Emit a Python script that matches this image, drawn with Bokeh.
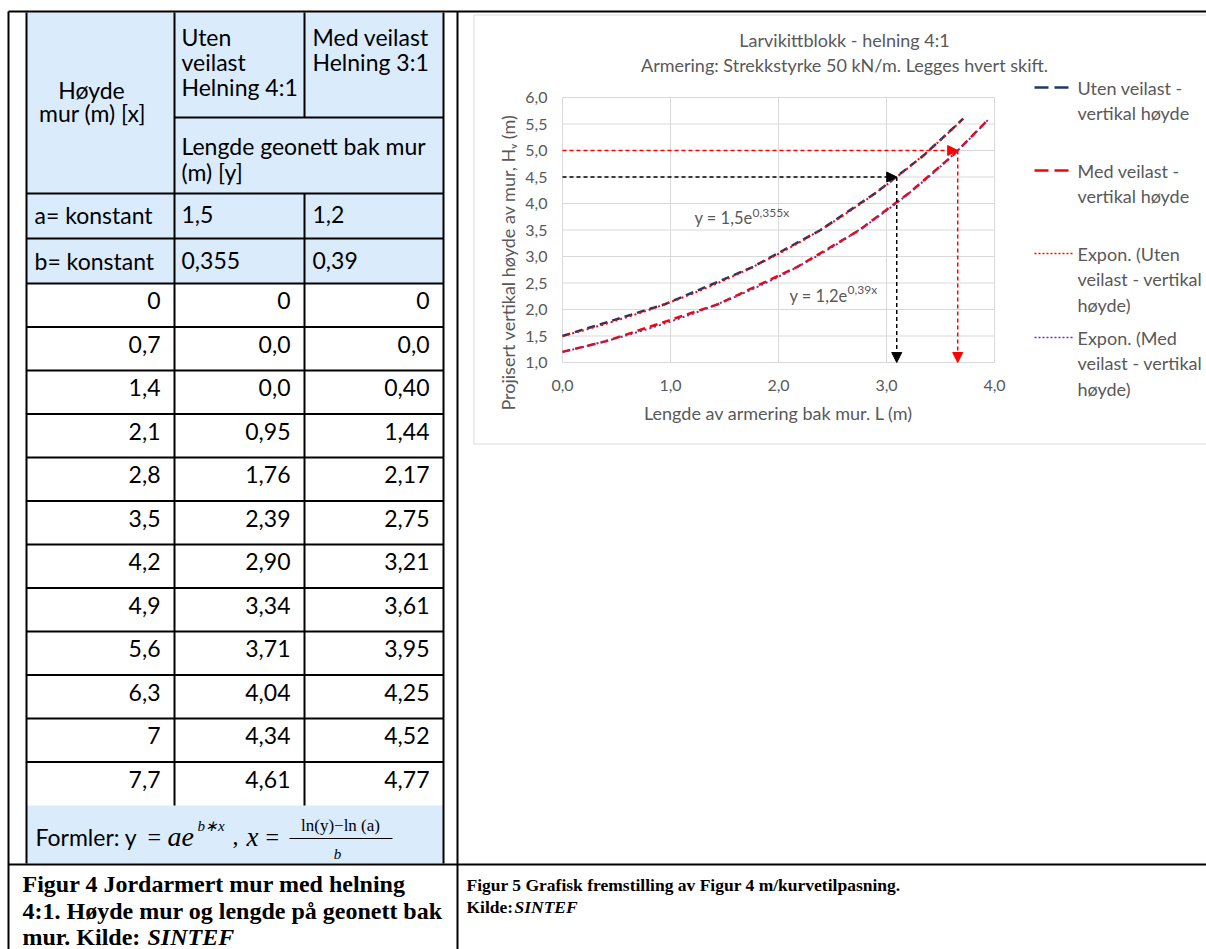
import math
import numpy as np
from bokeh.plotting import figure
from bokeh.models import Range1d, Arrow, NormalHead
from bokeh.core.properties import value
from bokeh.embed import file_html
from bokeh.resources import INLINE

# ---------------- data ----------------
hoyde_lbl = ["0", "0,7", "1,4", "2,1", "2,8", "3,5", "4,2", "4,9", "5,6", "6,3", "7", "7,7"]
uten_lbl = ["0", "0,0", "0,0", "0,95", "1,76", "2,39", "2,90", "3,34", "3,71", "4,04", "4,34", "4,61"]
med_lbl = ["0", "0,0", "0,40", "1,44", "2,17", "2,75", "3,21", "3,61", "3,95", "4,25", "4,52", "4,77"]
a_lbl = ["1,5", "1,2"]
b_lbl = ["0,355", "0,39"]
target_h = [4.5, 5.0]
x_ticks = [0.0, 1.0, 2.0, 3.0, 4.0]
x_tick_lbl = ["0,0", "1,0", "2,0", "3,0", "4,0"]
y_ticks = [1.0, 1.5, 2.0, 2.5, 3.0, 3.5, 4.0, 4.5, 5.0, 5.5, 6.0]
y_tick_lbl = ["1,0", "1,5", "2,0", "2,5", "3,0", "3,5", "4,0", "4,5", "5,0", "5,5", "6,0"]
legend_lines = [
    ["Uten veilast -", "vertikal høyde"],
    ["Med veilast -", "vertikal høyde"],
    ["Expon. (Uten", "veilast - vertikal", "høyde)"],
    ["Expon. (Med", "veilast - vertikal", "høyde)"],
]


def num(s):
    return float(s.replace(",", "."))


H_all = [num(s) for s in hoyde_lbl]
L_uten = [num(s) for s in uten_lbl]
L_med = [num(s) for s in med_lbl]
a_vals = [num(s) for s in a_lbl]
b_vals = [num(s) for s in b_lbl]

# ---------------- styles ----------------
W, HT = 1206, 949
CAL = value("Lato")
SER = value("Liberation Serif")
GRAY = "#595959"
BLUE = "#DAEBFC"
NAVY = "#1F3864"
RED = "#FF0000"
PURPLE = "#7030A0"

p = figure(width=W, height=HT, x_range=Range1d(0, W), y_range=Range1d(HT, 0),
           output_backend="svg", toolbar_location=None, min_border=0,
           x_axis_type=None, y_axis_type=None)
p.outline_line_color = None
p.background_fill_color = "white"
p.border_fill_color = "white"

# chart scales (plot area pixel box)
PL, PR, PT, PB = 562, 994, 97, 362
xmin, xmax = x_ticks[0], x_ticks[-1]
ymin, ymax = y_ticks[0], y_ticks[-1]
kx = (PR - PL) / (xmax - xmin)
ky = (PB - PT) / (ymax - ymin)
p.extra_x_ranges = {"L": Range1d(xmin + (0 - PL) / kx, xmin + (W - PL) / kx)}
p.extra_y_ranges = {"H": Range1d(ymax - (HT - PT) / ky, ymax + (PT - 0) / ky)}
CH = dict(x_range_name="L", y_range_name="H")


def txt(x, y, s, size, color="black", align="left", font=CAL, style="normal", **kw):
    p.text(x=[x], y=[y], text=[s], text_font=font, text_font_size=f"{size}px",
           text_color=color, text_align=align, text_baseline="middle",
           text_font_style=style, **kw)


def seg(x0, y0, x1, y1, color="black", w=2, **kw):
    p.segment(x0=x0, y0=y0, x1=x1, y1=y1, line_color=color, line_width=w, **kw)


# ---------------- table ----------------
cx = [26, 174, 304, 443]
top, r1, r2, r3, r4 = 12, 117, 193, 238, 283
row_h = 43.5
n = len(hoyde_lbl)
data_edges = [r4 + i * row_h for i in range(n + 1)]
f_top, f_bot = data_edges[-1], 863

p.quad(left=[cx[0], cx[0]], right=[cx[3], cx[3]], top=[top, f_top], bottom=[r4, f_bot],
       fill_color=BLUE, line_color=None)

# table lines
seg([cx[0], cx[3], cx[1], cx[2], cx[2]], [top, top, top, top, r2],
    [cx[0], cx[3], cx[1], cx[2], cx[2]], [f_bot, f_bot, f_top, r1, f_top])
hl = [r2, r3] + data_edges[:-1]
seg([cx[1]] + [cx[0]] * len(hl), [r1] + hl, [cx[3]] * (len(hl) + 1), [r1] + hl)

# outer frame
seg([8, 8, 457, 8], [11, 11, 11, 864], [1210, 8, 457, 1210], [11, 952, 952, 864])

# header texts
TS = 23
txt(91, 89, "Høyde", TS, align="center")
txt(92, 112, "mur (m) [x]", TS, align="center")
for i, s in enumerate(["Uten", "veilast", "Helning 4:1"]):
    txt(181, 36 + 25 * i, s, TS)
for i, s in enumerate(["Med veilast", "Helning 3:1"]):
    txt(312, 36 + 25 * i, s, TS)
txt(181, 145, "Lengde geonett bak mur", TS)
txt(181, 171, "(m) [y]", TS)
txt(34, 214, "a= konstant", TS)
txt(181, 214, a_lbl[0], TS)
txt(312, 214, a_lbl[1], TS)
txt(34, 260, "b= konstant", TS)
txt(181, 260, b_lbl[0], TS)
txt(312, 260, b_lbl[1], TS)

ys = [e + 17 for e in data_edges[:-1]]
for col_x, labels in [(cx[1], hoyde_lbl), (cx[2], uten_lbl), (cx[3], med_lbl)]:
    p.text(x=[col_x - 14] * n, y=ys, text=labels, text_font=CAL, text_font_size=f"{TS}px",
           text_align="right", text_baseline="middle", text_color="black")

# formula row
fy = 836
txt(35, fy, "Formler: y", TS)
txt(147, fy, "=", 24, font=SER)
txt(167, fy, "ae", 28, font=SER, style="italic")
txt(197, 825, "b∗x", 15, font=SER, style="italic")
txt(232, fy, ",", 24, font=SER)
txt(246, fy, "x", 27, font=SER, style="italic")
txt(265, fy, "=", 24, font=SER)
txt(340, 825, "ln(y)−ln (a)", 17, font=SER, align="center")
seg([289], [838], [392], [838], w=1.2)
txt(337, 853, "b", 15, font=SER, style="italic", align="center")

# captions
CS = 24
txt(22, 883, "Figur 4 Jordarmert mur med helning", CS, font=SER, style="bold")
txt(22, 910, "4:1. Høyde mur og lengde på geonett bak", CS, font=SER, style="bold")
txt(22, 936, "mur. Kilde: ", CS, font=SER, style="bold")
txt(147, 936, "SINTEF", CS, font=SER, style="bold italic")
RS = 17.5
txt(466, 884, "Figur 5 Grafisk fremstilling av Figur 4 m/kurvetilpasning.", RS, font=SER, style="bold")
txt(466, 906, "Kilde: ", RS, font=SER, style="bold")
txt(514, 906, "SINTEF", RS, font=SER, style="bold italic")

# ---------------- chart ----------------
# chart area border
seg([473.5, 473.5, 473.5], [14.5, 14.5, 443.5], [1210, 473.5, 1210], [14.5, 443.5, 443.5],
    color="#D9D9D9", w=1)

# grid
seg([xmin] * len(y_ticks), y_ticks, [xmax] * len(y_ticks), y_ticks, color="#D9D9D9", w=1, **CH)
seg(x_ticks, [ymin] * len(x_ticks), x_ticks, [ymax] * len(x_ticks), color="#D9D9D9", w=1, **CH)

# tick labels
p.text(x=[xmin] * len(y_ticks), y=y_ticks, text=y_tick_lbl, x_offset=-15, text_font=CAL,
       text_font_size="16px", text_color=GRAY, text_align="right", text_baseline="middle", **CH)
p.text(x=x_ticks, y=[ymin] * len(x_ticks), text=x_tick_lbl, y_offset=23, text_font=CAL,
       text_font_size="16px", text_color=GRAY, text_align="center", text_baseline="middle", **CH)

# titles
txt(844, 39, "Larvikittblokk - helning 4:1", 18, color=GRAY, align="center")
txt(844, 64, "Armering: Strekkstyrke 50 kN/m. Legges hvert skift.", 18, color=GRAY, align="center")
txt((PL + PR) / 2, 412, "Lengde av armering bak mur. L (m)", 18, color=GRAY, align="center")
txt(507, 262, "Projisert vertikal høyde av mur, Hᵥ (m)", 18, color=GRAY, align="center",
    angle=math.pi / 2)

# series + exponential trendlines
series = [(L_uten, a_vals[0], b_vals[0], NAVY, RED), (L_med, a_vals[1], b_vals[1], RED, PURPLE)]
for Ls, aa, bb, scol, tcol in series:
    pts = [(l, h) for l, h in zip(Ls, H_all) if l > 0 and h < ymax]
    sx = [0.0] + [q[0] for q in pts]
    sy = [aa] + [q[1] for q in pts]
    p.line(sx, sy, line_color=scol, line_width=2.5, line_dash="8 5", **CH)
    tx = np.linspace(0, max(sx), 80)
    p.line(tx, aa * np.exp(bb * tx), line_color=tcol, line_width=2, line_dash="2 3", **CH)

# equation labels
txt(1.76, 3.72, f"y = {a_lbl[0]}e", 16.5, color=GRAY, align="right", **CH)
txt(1.76, 3.72, f"{b_lbl[0]}x", 12, color=GRAY, y_offset=-6, **CH)
txt(2.64, 2.26, f"y = {a_lbl[1]}e", 16.5, color=GRAY, align="right", **CH)
txt(2.64, 2.26, f"{b_lbl[1]}x", 12, color=GRAY, y_offset=-6, **CH)

# read-off arrows
for yv, aa, bb, col in [(target_h[0], a_vals[0], b_vals[0], "black"),
                        (target_h[1], a_vals[1], b_vals[1], RED)]:
    xv = (math.log(yv) - math.log(aa)) / bb
    for xs, ys0, xe, ye in [(xmin, yv, xv, yv), (xv, yv, xv, ymin)]:
        p.add_layout(Arrow(x_start=xs, y_start=ys0, x_end=xe, y_end=ye,
                           line_color=col, line_width=1.5, line_dash="4 3",
                           end=NormalHead(size=10, fill_color=col, line_color=col, line_width=1),
                           **CH))

# legend
leg_y = [87, 170, 253, 337]
leg_style = [(NAVY, 2.5, "14 6"), (RED, 2.5, "14 6"), (RED, 1.5, "2 2"), (PURPLE, 1.5, "2 2")]
for (col, w, dash), y0, lines in zip(leg_style, leg_y, legend_lines):
    p.line([1034, 1072], [y0, y0], line_color=col, line_width=w, line_dash=dash)
    for j, s in enumerate(lines):
        txt(1077, y0 + 25.5 * j, s, 18, color=GRAY)

open("out.html", "w").write(file_html(p, INLINE))
